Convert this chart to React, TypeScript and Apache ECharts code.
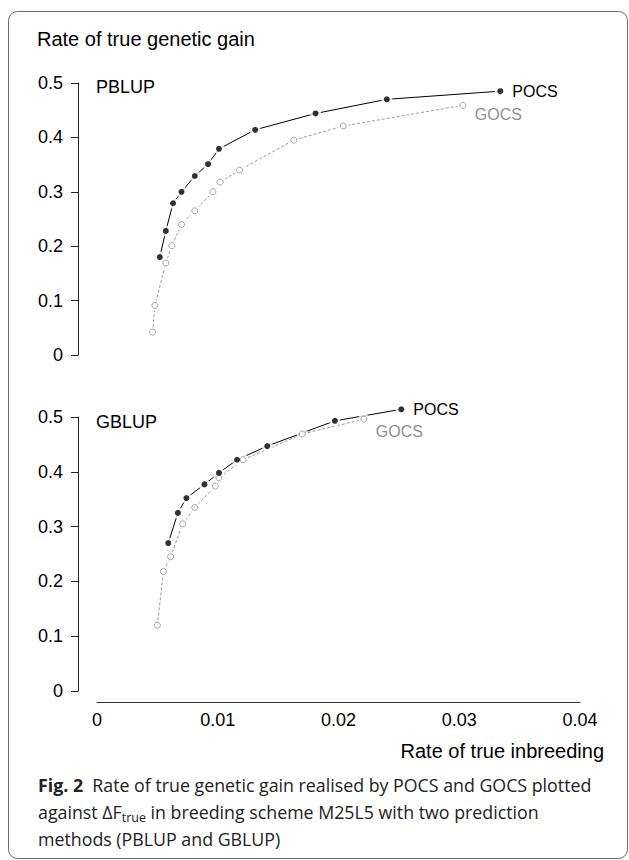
import React, { useEffect, useRef } from "react";
import * as echarts from "echarts";

// ---- data ----
const pblupPocsX = [0.0052, 0.0057, 0.0063, 0.0070, 0.0081, 0.0092, 0.0101, 0.0131, 0.0181, 0.0240, 0.0334];
const pblupPocsY = [0.180, 0.228, 0.279, 0.300, 0.329, 0.351, 0.379, 0.414, 0.444, 0.470, 0.485];
const pblupGocsX = [0.0046, 0.0048, 0.0057, 0.0062, 0.0070, 0.0081, 0.0096, 0.0102, 0.0118, 0.0163, 0.0204, 0.0303];
const pblupGocsY = [0.042, 0.091, 0.169, 0.201, 0.240, 0.265, 0.300, 0.318, 0.340, 0.395, 0.421, 0.459];
const gblupPocsX = [0.0059, 0.0067, 0.0074, 0.0089, 0.0101, 0.0116, 0.0141, 0.0197, 0.0252];
const gblupPocsY = [0.270, 0.325, 0.352, 0.377, 0.398, 0.422, 0.447, 0.493, 0.514];
const gblupGocsX = [0.0050, 0.0055, 0.0061, 0.0071, 0.0081, 0.0098, 0.0101, 0.0121, 0.0170, 0.0221];
const gblupGocsY = [0.120, 0.218, 0.245, 0.305, 0.335, 0.374, 0.389, 0.422, 0.469, 0.496];

const seriesNames = ["POCS", "GOCS"];
const panelNames = ["PBLUP", "GBLUP"];
const yTitle = "Rate of true genetic gain";
const xTitle = "Rate of true inbreeding";

const FONT = "'Liberation Sans', Arial, Helvetica, sans-serif";
const CAP_FONT = "'Open Sans', 'Noto Sans', sans-serif";
const GREY = "#8f8f8f";

const zip = (xs: number[], ys: number[]) => xs.map((x, i) => [x, ys[i]]);

function panelSeries(idx: number, pocs: number[][], gocs: number[][]) {
  const base = { xAxisIndex: idx, yAxisIndex: idx, clip: false };
  return [
    {
      ...base,
      type: "line",
      name: seriesNames[1],
      data: gocs,
      showSymbol: false,
      symbol: "none",
      z: 2,
      lineStyle: { color: "#9a9a9a", width: 1, type: [3, 2] },
      endLabel: {
        show: true,
        formatter: seriesNames[1],
        color: GREY,
        fontSize: 16,
        fontFamily: FONT,
        distance: 12,
        offset: [0, idx === 0 ? 9 : 12],
      },
    },
    {
      ...base,
      type: "line",
      name: seriesNames[0],
      data: pocs,
      showSymbol: false,
      symbol: "none",
      z: 2,
      lineStyle: { color: "#000", width: 1 },
      endLabel: {
        show: true,
        formatter: seriesNames[0],
        color: "#000",
        fontSize: 16,
        fontFamily: FONT,
        distance: 12,
      },
    },
    {
      ...base,
      type: "scatter",
      data: gocs,
      symbol: "circle",
      symbolSize: 11,
      itemStyle: { color: "#fff" },
      silent: true,
      z: 3,
    },
    {
      ...base,
      type: "scatter",
      data: pocs,
      symbol: "circle",
      symbolSize: 11,
      itemStyle: { color: "#fff" },
      silent: true,
      z: 3,
    },
    {
      ...base,
      type: "scatter",
      data: gocs,
      symbol: "circle",
      symbolSize: 6,
      itemStyle: { color: "#fff", borderColor: GREY, borderWidth: 1 },
      z: 4,
    },
    {
      ...base,
      type: "scatter",
      data: pocs,
      symbol: "circle",
      symbolSize: 6,
      itemStyle: { color: "#000" },
      z: 4,
    },
  ];
}

export default function App() {
  const ref = useRef<HTMLDivElement>(null);
  useEffect(() => {
    if (!ref.current) return;
    const chart = echarts.init(ref.current, undefined, { renderer: "svg" });
    const yAxisBase = {
      type: "value",
      min: 0,
      max: 0.5,
      interval: 0.1,
      offset: 19,
      splitLine: { show: false },
      axisLine: { show: true, onZero: false, lineStyle: { color: "#222", width: 1 } },
      axisTick: { show: true, length: 7, lineStyle: { color: "#222" } },
      axisLabel: { color: "#000", fontSize: 18, fontFamily: FONT, margin: 15 },
    };
    const option: any = {
      animation: false,
      backgroundColor: "#fff",
      grid: [
        { left: 97, right: 49, top: 83, height: 272 },
        { left: 97, right: 49, top: 417, height: 274 },
      ],
      xAxis: [
        { gridIndex: 0, type: "value", min: 0, max: 0.04, interval: 0.01, show: false },
        {
          gridIndex: 1,
          type: "value",
          min: 0,
          max: 0.04,
          interval: 0.01,
          offset: 11,
          splitLine: { show: false },
          axisLine: { show: true, onZero: false, lineStyle: { color: "#333", width: 1 } },
          axisTick: { show: false },
          axisLabel: { color: "#000", fontSize: 18, fontFamily: FONT, margin: 9 },
        },
      ],
      yAxis: [
        { ...yAxisBase, gridIndex: 0 },
        { ...yAxisBase, gridIndex: 1 },
      ],
      series: [
        ...panelSeries(0, zip(pblupPocsX, pblupPocsY), zip(pblupGocsX, pblupGocsY)),
        ...panelSeries(1, zip(gblupPocsX, gblupPocsY), zip(gblupGocsX, gblupGocsY)),
      ],
      graphic: [
        {
          type: "rect",
          shape: { x: 8.5, y: 11.5, width: 619, height: 847, r: 9 },
          style: { fill: "none", stroke: "#6a6a6a", lineWidth: 1 },
          silent: true,
        },
        {
          type: "text",
          left: 37,
          top: 29,
          style: { text: yTitle, fontSize: 20, fontFamily: FONT, fill: "#000" },
        },
        {
          type: "text",
          left: 96,
          top: 78,
          style: { text: panelNames[0], fontSize: 18, fontFamily: FONT, fill: "#000" },
        },
        {
          type: "text",
          left: 96,
          top: 413,
          style: { text: panelNames[1], fontSize: 18, fontFamily: FONT, fill: "#000" },
        },
        {
          type: "text",
          right: 25,
          top: 741,
          style: { text: xTitle, fontSize: 20, fontFamily: FONT, fill: "#000" },
        },
        {
          type: "text",
          left: 38,
          top: 776,
          style: {
            text: "{b|Fig. 2}  Rate of true genetic gain realised by POCS and GOCS plotted",
            fontSize: 17.8,
            fontFamily: CAP_FONT,
            fill: "#222",
            rich: { b: { fontWeight: "bold", fontSize: 17.8, fontFamily: CAP_FONT, fill: "#222" } },
          },
        },
        {
          type: "text",
          left: 38,
          top: 803,
          style: {
            text: "against ΔF{s|true} in breeding scheme M25L5 with two prediction",
            fontSize: 17.8,
            fontFamily: CAP_FONT,
            fill: "#222",
            rich: { s: { fontSize: 12.5, fontFamily: CAP_FONT, fill: "#222", padding: [10, 0, 0, 0] } },
          },
        },
        {
          type: "text",
          left: 38,
          top: 830,
          style: {
            text: "methods (PBLUP and GBLUP)",
            fontSize: 17.8,
            fontFamily: CAP_FONT,
            fill: "#222",
          },
        },
      ],
    };
    chart.setOption(option);
    return () => chart.dispose();
  }, []);
  return (
    <div
      ref={ref}
      style={{ position: "fixed", left: 0, top: 0, width: 629, height: 860, background: "#fff" }}
    />
  );
}
